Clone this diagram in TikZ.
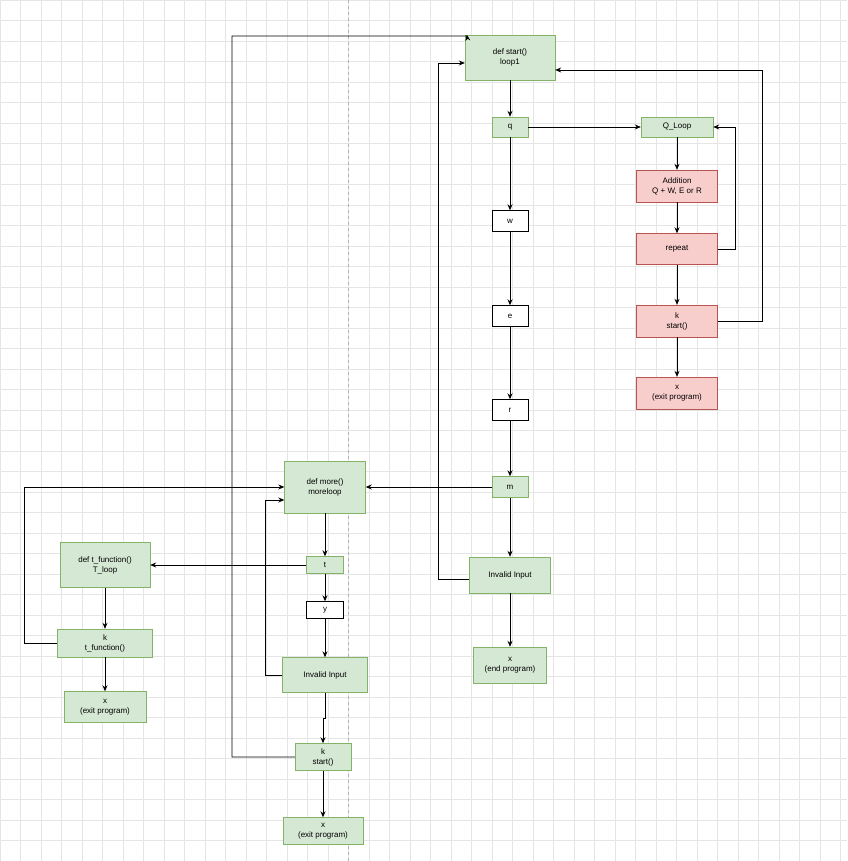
\documentclass[tikz,border=0pt]{standalone}
\usepackage{fontspec}
\setmainfont{Liberation Sans}
\usetikzlibrary{arrows.meta, positioning}
\definecolor{gfill}{HTML}{D5E8D4}
\definecolor{gline}{HTML}{82B366}
\definecolor{rfill}{HTML}{F8CECC}
\definecolor{rline}{HTML}{B85450}
\tikzset{%
	box/.style={
		draw=gline, fill=gfill, align=center, inner sep=0pt,
		font=\fontsize{8}{10}\selectfont
	},
	redbox/.style={box, draw=rline, fill=rfill},
	plain/.style={box, draw=black, fill=white},
	flow/.style={-{Stealth[length=6pt,width=5pt]}, thick},
}
\begin{document}
\begin{tikzpicture}[x=1pt, y=-1pt]
	\useasboundingbox (0,0) rectangle (847,861);
	% Background grid
	\fill[white] (0,0) rectangle (847,861);
	\foreach \g in {0,20.5,...,861}
		\draw[black!10, line width=0.5pt] (0,\g) -- (847,\g);
	\foreach \g in {0,20.5,...,847}
		\draw[black!10, line width=0.5pt] (\g,0) -- (\g,861);
	\draw[black!30, dashed] (348,0) -- (348,861);
	
	% Main column
	\node[box, minimum width=90pt, minimum height=45pt] (start) at (510,57.5) {def start()\\loop1};
	\node[box, minimum width=36pt, minimum height=20pt] (q) at (510,127) {q};
	\node[plain, minimum width=36pt, minimum height=21pt] (w) at (510,221) {w};
	\node[plain, minimum width=36pt, minimum height=21pt] (e) at (510,316) {e};
	\node[plain, minimum width=36pt, minimum height=21pt] (r) at (510,410) {r};
	\node[box, minimum width=36pt, minimum height=21pt] (m) at (510,487) {m};
	\node[box, minimum width=81pt, minimum height=36pt] (inv1) at (510,575) {Invalid Input};
	\node[box, minimum width=73pt, minimum height=36pt] (end1) at (510,665) {x\\(end program)};
	
	% Q loop
	\node[box, minimum width=72pt, minimum height=20pt] (qloop) at (677,127) {Q\_Loop};
	\node[redbox, minimum width=81pt, minimum height=32pt] (add) at (677,186) {Addition\\Q + W, E or R};
	\node[redbox, minimum width=81pt, minimum height=31pt] (rep) at (677,249) {repeat};
	\node[redbox, minimum width=81pt, minimum height=32pt] (kq) at (677,321) {k\\start()};
	\node[redbox, minimum width=81pt, minimum height=32pt] (xq) at (677,393) {x\\(exit program)};
	
	% More loop
	\node[box, minimum width=81pt, minimum height=52pt] (more) at (325,487) {def more()\\moreloop};
	\node[box, minimum width=37pt, minimum height=17pt] (t) at (325,565) {t};
	\node[plain, minimum width=37pt, minimum height=17pt] (y) at (325,610) {y};
	\node[box, minimum width=85pt, minimum height=35pt] (inv2) at (325,675) {Invalid Input};
	\node[box, minimum width=56pt, minimum height=27pt] (km) at (323,757) {k\\start()};
	\node[box, minimum width=80pt, minimum height=27pt] (xm) at (323,831) {x\\(exit program)};
	
	% T loop
	\node[box, minimum width=90pt, minimum height=45pt] (tfun) at (105,565) {def t\_function()\\T\_loop};
	\node[box, minimum width=95pt, minimum height=28pt] (kt) at (105,643) {k\\t\_function()};
	\node[box, minimum width=82pt, minimum height=31pt] (xt) at (105,707) {x\\(exit program)};
	
	% Connectors
	\draw[flow] (start) -- (q);
	\draw[flow] (q) -- (w);
	\draw[flow] (w) -- (e);
	\draw[flow] (e) -- (r);
	\draw[flow] (r) -- (m);
	\draw[flow] (m) -- (inv1);
	\draw[flow] (inv1) -- (end1);
	\draw[flow] (q) -- (qloop);
	\draw[flow] (qloop) -- (add);
	\draw[flow] (add) -- (rep);
	\draw[flow] (rep) -- (kq);
	\draw[flow] (kq) -- (xq);
	\draw[flow] (rep.east) -- ++(18,0) |- (qloop.east);
	\draw[flow] (kq.east) -- (762,321) |- ([yshift=-12.5pt]start.east);
	\draw[flow] (inv1.west) ++(0,4) -- (438,579) |- ([yshift=-5.5pt]start.west);
	\draw[flow] (km.west) -- (232,757) |- (467,36) -- ([xshift=2pt]start.north west);
	\draw[flow] (m) -- (more);
	\draw[flow] (more) -- (t);
	\draw[flow] (t) -- (y);
	\draw[flow] (y) -- (inv2);
	\draw[flow] (inv2.south) -- ++(0,26) -| (km.north);
	\draw[flow] (km) -- (xm);
	\draw[flow] (t) -- (tfun);
	\draw[flow] (tfun) -- (kt);
	\draw[flow] (kt) -- (xt);
	\draw[flow] (inv2.west) -- (265,675) |- ([yshift=-13pt]more.west);
	\draw[flow] (kt.west) -- (24,643) |- (more.west);
\end{tikzpicture}
\end{document}
